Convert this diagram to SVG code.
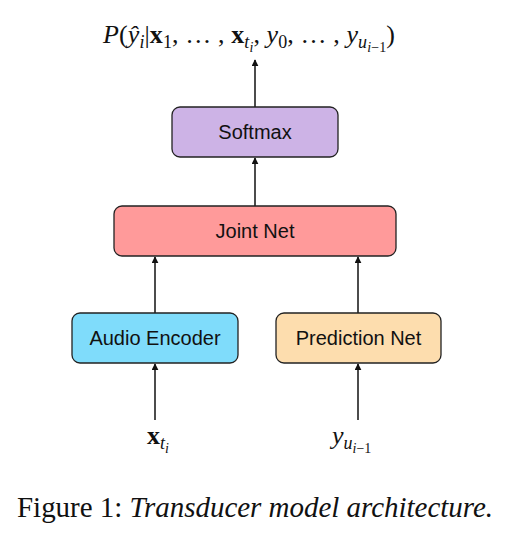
<svg xmlns="http://www.w3.org/2000/svg" width="514" height="536" viewBox="0 0 514 536">
<style>
.box{stroke:#222;stroke-width:1.3}
.lbl{font-family:"Liberation Sans",Arial,sans-serif;font-size:20px;fill:#111;text-anchor:middle}
.math{font-family:"Liberation Serif","DejaVu Serif",serif;font-size:26px;fill:#111}
.it{font-style:italic}
.b{font-weight:bold;font-style:normal}
.conn{stroke:#111;stroke-width:1.5;fill:none}
.cap{font-family:"Liberation Serif","Times New Roman",serif;font-size:29px;fill:#111}
</style>
<defs>
<marker id="ah" viewBox="0 0 10 10" refX="9" refY="5" markerWidth="7" markerHeight="7" markerUnits="userSpaceOnUse" orient="auto">
<path d="M0,0 L10,5 L0,10 z" fill="#111"/>
</marker>
</defs>
<rect width="514" height="536" fill="#fff"/>
<g id="connectors">
<line class="conn" x1="255" y1="107" x2="255" y2="60" marker-end="url(#ah)"/>
<line class="conn" x1="255" y1="206" x2="255" y2="158" marker-end="url(#ah)"/>
<line class="conn" x1="155" y1="313" x2="155" y2="257" marker-end="url(#ah)"/>
<line class="conn" x1="358" y1="313" x2="358" y2="257" marker-end="url(#ah)"/>
<line class="conn" x1="155" y1="420" x2="155" y2="364" marker-end="url(#ah)"/>
<line class="conn" x1="358" y1="420" x2="358" y2="364" marker-end="url(#ah)"/>
</g>
<g id="softmax">
<rect class="box" x="172" y="107" width="166" height="50" rx="8" fill="#CDB3E6"/>
<text class="lbl" x="255" y="139">Softmax</text>
</g>
<g id="joint">
<rect class="box" x="114" y="206" width="282" height="50" rx="8" fill="#FF9A9A"/>
<text class="lbl" x="255" y="238">Joint Net</text>
</g>
<g id="encoder">
<rect class="box" x="72" y="313" width="166" height="50" rx="8" fill="#7FDCFB"/>
<text class="lbl" x="155" y="345">Audio Encoder</text>
</g>
<g id="prediction">
<rect class="box" x="276" y="313" width="165" height="50" rx="8" fill="#FDDDAE"/>
<text class="lbl" x="358.5" y="345">Prediction Net</text>
</g>
<g id="output">
<text class="math" x="103" y="43" textLength="292" lengthAdjust="spacing"><tspan class="it">P</tspan>(<tspan class="it">ŷ</tspan><tspan class="it" font-size="18" dy="5">i</tspan><tspan dy="-5">|</tspan><tspan class="b">x</tspan><tspan font-size="18" dy="5">1</tspan><tspan dy="-5">, … , </tspan><tspan class="b">x</tspan><tspan class="it" font-size="18" dy="5">t</tspan><tspan class="it" font-size="14" dy="4">i</tspan><tspan dy="-9">, </tspan><tspan class="it">y</tspan><tspan font-size="18" dy="5">0</tspan><tspan dy="-5">, … , </tspan><tspan class="it">y</tspan><tspan class="it" font-size="18" dy="5">u</tspan><tspan class="it" font-size="14" dy="4">i</tspan><tspan font-size="14">−1</tspan><tspan dy="-9">)</tspan></text>
</g>
<g id="input-x">
<text class="math" x="147" y="444"><tspan class="b">x</tspan><tspan class="it" font-size="18" dy="5">t</tspan><tspan class="it" font-size="14" dy="4">i</tspan></text>
</g>
<g id="input-y">
<text class="math" x="332" y="444"><tspan class="it">y</tspan><tspan class="it" font-size="18" dy="5">u</tspan><tspan class="it" font-size="14" dy="4">i</tspan><tspan font-size="14">−1</tspan></text>
</g>
<text class="cap" x="17" y="517" textLength="476" lengthAdjust="spacing">Figure 1: <tspan font-style="italic">Transducer model architecture.</tspan></text>
</svg>
